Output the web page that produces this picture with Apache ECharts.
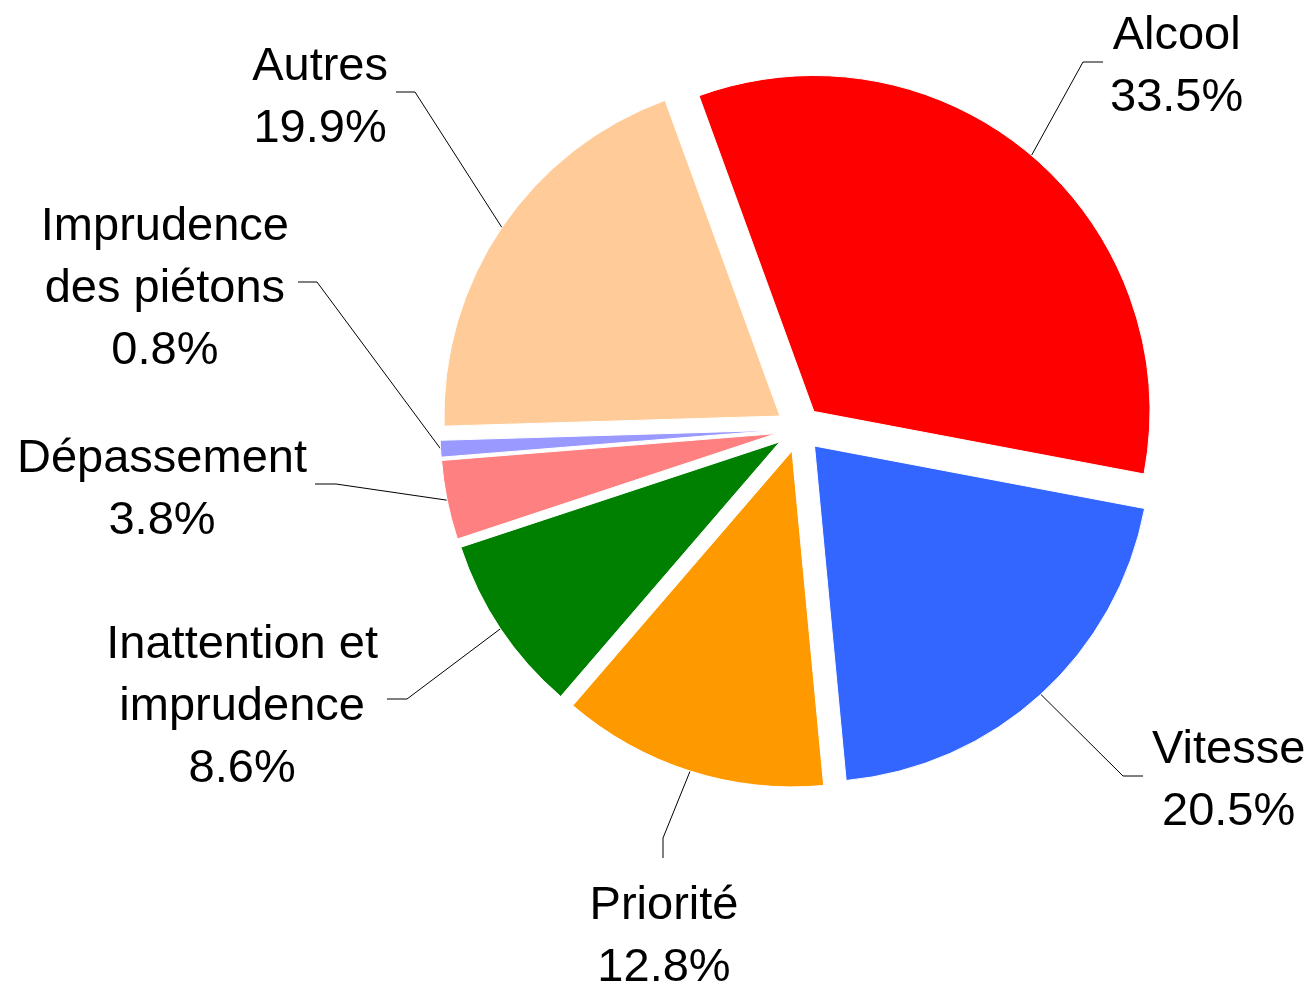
<!DOCTYPE html>
<html>
<head>
<meta charset="utf-8">
<script src="https://cdn.jsdelivr.net/npm/echarts@6/dist/echarts.min.js"></script>
<style>
  html, body { margin: 0; background: #fff; }
  #chart { width: 1312px; height: 985px; }
</style>
</head>
<body>
<div id="chart"></div>
<script>
// causes des accidents, parts en %
const categories = ['Alcool', 'Vitesse', 'Priorité', 'Inattention et\nimprudence', 'Dépassement', 'Imprudence\ndes piétons', 'Autres'];
const shares = [33.5, 20.5, 12.8, 8.6, 3.8, 0.8, 19.9];
const sliceColors = ['#ff0000', '#3366ff', '#ff9900', '#008000', '#ff8080', '#9999ff', '#ffcc99'];

const pieCenter = [799, 429];
const pieRadius = 336;
const explode = 23;

// coude et fin du trait de rappel, ancre du texte (px)
const labelSpots = [
  { bend: [1083, 62], end: [1103, 62], text: [1110, 67], align: 'left' },
  { bend: [1123, 776], end: [1143, 776], text: [1152, 781], align: 'left' },
  { bend: [663, 838], end: [663, 858], text: [664, 937], align: 'center' },
  { bend: [407, 699], end: [387, 699], text: [378, 707], align: 'right' },
  { bend: [336, 484], end: [315, 484], text: [307, 490], align: 'right' },
  { bend: [317, 282], end: [298, 282], text: [289, 289], align: 'right' },
  { bend: [415, 92], end: [396, 92], text: [388, 98], align: 'right' }
];

const chart = echarts.init(document.getElementById('chart'));

chart.setOption({
  animation: false,
  series: [
    // les parts, toutes détachées
    {
      type: 'pie',
      center: pieCenter,
      radius: pieRadius,
      startAngle: 110,
      clockwise: true,
      selectedMode: 'multiple',
      selectedOffset: explode,
      itemStyle: { borderColor: '#fff', borderWidth: 1 },
      label: { show: false },
      labelLine: { show: false },
      emphasis: { disabled: true },
      data: categories.map((name, i) => ({
        name: name,
        value: shares[i],
        selected: true,
        itemStyle: { color: sliceColors[i] }
      }))
    },
    // calque invisible, rayon = bord des parts détachées, porte les étiquettes
    {
      type: 'pie',
      silent: true,
      center: pieCenter,
      radius: pieRadius + explode,
      startAngle: 110,
      clockwise: true,
      avoidLabelOverlap: false,
      itemStyle: { color: 'rgba(0,0,0,0)' },
      label: {
        show: true,
        position: 'outside',
        formatter: (p) => [...p.name.split('\n'), p.value.toFixed(1) + '%']
          .map(s => '{c|' + s + '}').join('\n'),
        rich: {
          c: { fontSize: 47, lineHeight: 62, align: 'center', color: '#000', fontFamily: 'Liberation Sans' }
        }
      },
      labelLine: { show: true, lineStyle: { color: '#000', width: 1 } },
      labelLayout: (params) => {
        const spot = labelSpots[params.dataIndex];
        const start = params.labelLinePoints[0];
        return {
          x: spot.text[0],
          y: spot.text[1],
          align: spot.align,
          verticalAlign: 'middle',
          labelLinePoints: [start, spot.bend, spot.end]
        };
      },
      emphasis: { disabled: true },
      data: categories.map((name, i) => ({ name: name, value: shares[i] }))
    }
  ]
});
</script>
</body>
</html>
